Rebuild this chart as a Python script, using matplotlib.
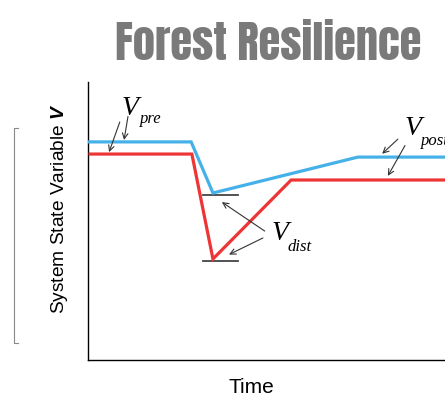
import matplotlib
matplotlib.use("Agg")
import matplotlib.pyplot as plt
from matplotlib.lines import Line2D

plt.rcParams["mathtext.fontset"] = "custom"
plt.rcParams["mathtext.bfit"] = "Liberation Sans:italic:bold"

# time / state values (arbitrary units, axes span 0-100)
blue_t = [0, 28.9, 35.0, 75.6, 100]
blue_v = [78.3, 78.3, 59.8, 72.8, 72.8]
red_t = [0.6, 29.1, 35.0, 56.9, 100]
red_v = [73.9, 73.9, 35.9, 64.5, 64.5]
dist_marks = [59.8, 35.9]
dist_mark_t = [32.2, 42.0]

sans = ["Liberation Sans", "DejaVu Sans"]
serif = ["Liberation Serif", "DejaVu Serif"]

fig = plt.figure(figsize=(4.45, 4.0), dpi=100)
ax = fig.add_axes([88 / 445, 40 / 400, 1 - 88 / 445, (360 - 82) / 400])
ax.set_xlim(0, 100)
ax.set_ylim(-0.7, 100)

ax.plot(blue_t, blue_v, color="#45b1e8", lw=2.3, solid_joinstyle="miter", zorder=3)
ax.plot(red_t, red_v, color="#ee3535", lw=2.3, solid_joinstyle="miter", zorder=3)
for v in dist_marks:
    ax.plot(dist_mark_t, [v - 0.7, v - 0.7], color="#444444", lw=1.3, zorder=2)

for s in ["top", "right"]:
    ax.spines[s].set_visible(False)
ax.spines["left"].set_linewidth(1.0)
ax.spines["bottom"].set_linewidth(1.0)
ax.set_xticks([])
ax.set_yticks([])

arrow = dict(arrowstyle="->", color="#333333", lw=0.8, shrinkA=0, shrinkB=0)

# V_pre
ax.text(9.5, 88.0, "V", fontsize=20, style="italic", family=serif)
ax.text(14.5, 85.0, "pre", fontsize=12, style="italic", family=serif)
ax.annotate("", xy=(5.9, 74.6), xytext=(8.9, 85.5), arrowprops=arrow)
ax.annotate("", xy=(10.1, 79.0), xytext=(11.2, 87.5), arrowprops=arrow)

# V_post
ax.text(88.8, 80.8, "V", fontsize=20, style="italic", family=serif)
ax.text(93.3, 77.3, "post", fontsize=12, style="italic", family=serif)
ax.annotate("", xy=(82.4, 74.0), xytext=(86.8, 79.3), arrowprops=arrow)
ax.annotate("", xy=(84.0, 66.0), xytext=(88.8, 77.0), arrowprops=arrow)

# V_dist
ax.text(51.3, 42.6, "V", fontsize=20, style="italic", family=serif)
ax.text(55.8, 38.8, "dist", fontsize=12, style="italic", family=serif)
ax.annotate("", xy=(37.5, 56.5), xytext=(49.5, 46.0), arrowprops=arrow)
ax.annotate("", xy=(39.5, 37.5), xytext=(49.0, 43.5), arrowprops=arrow)

fig.text(251 / 445, 1 - 393 / 400, "Time", ha="center", va="baseline",
         fontsize=15, family=sans)
fig.text(60 / 445, 1 - 209 / 400, r"System State Variable $\mathbfit{V}$", rotation=90,
         ha="center", va="center", fontsize=13.8, family=sans)

# bracket on the left
bx = 14 / 445
y0, y1 = 1 - 343 / 400, 1 - 128 / 400
fig.add_artist(Line2D([bx + 4 / 445, bx, bx, bx + 4 / 445], [y1, y1, y0, y0],
                      color="#888888", lw=0.8))

fig.text(268 / 445, 1 - 60 / 400, "Forest Resilience", ha="center", va="baseline",
         fontsize=32, color="#7a7a7a",
         family=["Anton", "Oswald", "DejaVu Sans"])

fig.savefig("out.png", dpi=100)
